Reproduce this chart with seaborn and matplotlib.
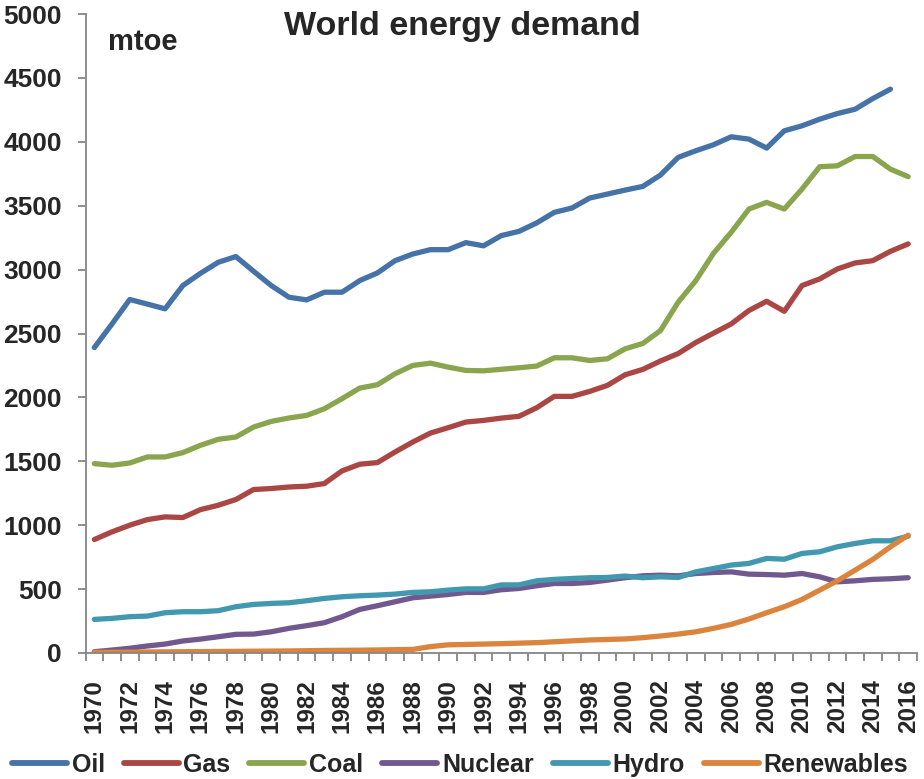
import numpy as np
import pandas as pd
import matplotlib
matplotlib.use("Agg")
import matplotlib.pyplot as plt
import seaborn as sns
from matplotlib.ticker import FixedLocator

years = list(range(1970, 2017))

oil = [2390, 2575, 2766, 2730, 2693, 2875, 2971, 3057, 3102, 2987,
       2875, 2784, 2763, 2823, 2823, 2914, 2974, 3070, 3122, 3156,
       3156, 3211, 3186, 3266, 3299, 3365, 3448, 3482, 3560, 3591,
       3622, 3651, 3740, 3878, 3930, 3977, 4039, 4021, 3951, 4086,
       4125, 4177, 4221, 4255, 4338, 4412, np.nan]
gas = [888, 948, 1000, 1044, 1065, 1060, 1122, 1156, 1201, 1279,
       1287, 1299, 1305, 1326, 1425, 1477, 1490, 1573, 1651, 1721,
       1763, 1807, 1820, 1838, 1852, 1919, 2008, 2008, 2047, 2094,
       2177, 2219, 2285, 2343, 2430, 2503, 2575, 2680, 2752, 2674,
       2875, 2927, 3005, 3052, 3070, 3143, 3201]
coal = [1482, 1469, 1487, 1534, 1534, 1568, 1625, 1672, 1690, 1768,
        1812, 1839, 1859, 1911, 1990, 2073, 2099, 2185, 2250, 2268,
        2237, 2211, 2208, 2220, 2232, 2245, 2310, 2310, 2289, 2302,
        2380, 2422, 2523, 2745, 2914, 3128, 3292, 3474, 3526, 3474,
        3630, 3805, 3812, 3885, 3885, 3786, 3727]
nuclear = [10, 23, 37, 55, 70, 94, 109, 127, 146, 148,
           166, 193, 214, 237, 284, 341, 370, 401, 432, 445,
           458, 474, 474, 495, 505, 526, 544, 544, 552, 570,
           589, 604, 609, 604, 622, 630, 635, 617, 614, 609,
           622, 596, 557, 565, 576, 581, 589]
hydro = [263, 271, 284, 289, 315, 323, 323, 331, 362, 380,
         388, 393, 409, 427, 440, 448, 453, 461, 474, 479,
         492, 502, 502, 533, 533, 565, 576, 583, 589, 591,
         602, 589, 596, 591, 635, 661, 688, 701, 740, 734,
         779, 792, 831, 857, 878, 878, 914]
renewables = [5, 6, 7, 8, 9, 10, 11, 12, 13, 14,
              15, 16, 18, 20, 21, 22, 24, 26, 28, 50,
              64, 67, 70, 73, 77, 81, 88, 95, 102, 106,
              110, 120, 133, 148, 166, 193, 224, 266, 315, 362,
              419, 492, 565, 648, 732, 831, 922]

series_names = ["Oil", "Gas", "Coal", "Nuclear", "Hydro", "Renewables"]
series_values = [oil, gas, coal, nuclear, hydro, renewables]
colors = ["#4572A7", "#AA4643", "#89A54E", "#71588F", "#4198AF", "#DB843D"]

x_tick_years = list(range(1970, 2017, 2))
y_ticks = list(range(0, 5001, 500))

df = pd.DataFrame({"Year": years})
for n, v in zip(series_names, series_values):
    df[n] = v
long = df.melt(id_vars="Year", var_name="Source", value_name="mtoe").dropna()

sns.set_theme(style="white")
plt.rcParams["font.family"] = ["Liberation Sans", "DejaVu Sans"]
plt.rcParams["font.weight"] = "bold"

fig = plt.figure(figsize=(9.24, 7.79), dpi=100)
ax = fig.add_axes([85.5 / 924, 1 - 653 / 779, (917 - 85.5) / 924, (653 - 14) / 779])

sns.lineplot(data=long, x="Year", y="mtoe", hue="Source", hue_order=series_names,
             palette=colors, linewidth=3.8, ax=ax, solid_capstyle="round")

ax.set_xlim(1969.5, 2016.5)
ax.set_ylim(0, 5000)
ax.set_xlabel("")
ax.set_ylabel("")

for s in ["top", "right"]:
    ax.spines[s].set_visible(False)
for s in ["left", "bottom"]:
    ax.spines[s].set_color("#868686")
    ax.spines[s].set_linewidth(1.3)

ax.set_yticks(y_ticks)
ax.set_yticklabels([str(v) for v in y_ticks], fontsize=19, fontweight="bold")
ax.tick_params(axis="y", which="major", direction="out", length=6, width=1.3,
               color="#868686", pad=11, left=True)

ax.set_xticks(x_tick_years)
ax.set_xticklabels([str(y) for y in x_tick_years], rotation=90, fontsize=17.5,
                   fontweight="bold")
ax.xaxis.set_minor_locator(FixedLocator(np.arange(1969.5, 2017, 1.0)))
ax.tick_params(axis="x", which="major", length=0, pad=19, bottom=True)
ax.tick_params(axis="x", which="minor", direction="out", length=6, width=1.3,
               color="#868686", bottom=True)

fig.text(0.5, 1 - 35 / 779, "World energy demand", ha="center", va="baseline",
         fontsize=24.5, fontweight="bold")
ax.text(108 / 924, 1 - 50 / 779, "mtoe", transform=fig.transFigure, ha="left",
        va="baseline", fontsize=21, fontweight="bold")

ax.get_legend().remove()
handles = [plt.Line2D([], [], color=c, linewidth=4.2, solid_capstyle="round") for c in colors]
fig.legend(handles, series_names, loc="center", bbox_to_anchor=(460 / 924, 1 - 765 / 779),
           ncol=6, frameon=False, handlelength=2.2, handletextpad=0.2,
           columnspacing=0.75, prop={"weight": "bold", "size": 18})

fig.savefig("out.png", dpi=100)
